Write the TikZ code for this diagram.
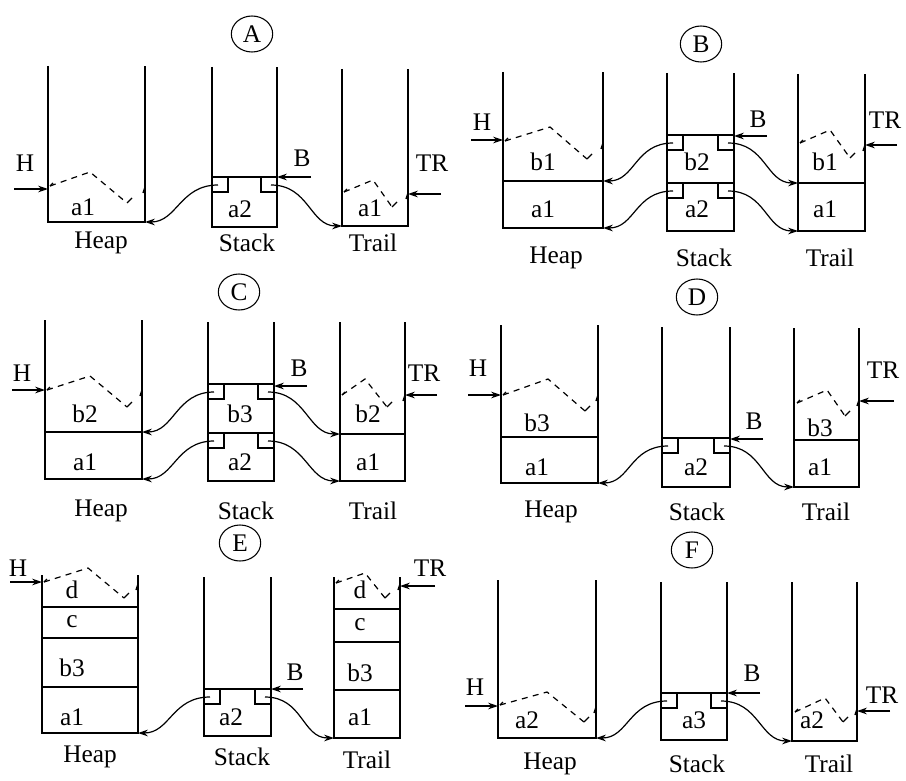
\documentclass[tikz,border=0pt]{standalone}
\usepackage{fontspec}
\setmainfont{Liberation Serif}
\usetikzlibrary{arrows.meta,shapes.geometric}
\tikzset{
  wall/.style={line width=1pt},
  ptr/.style={line width=0.9pt,-{Stealth[length=7.5pt,width=5pt]}},
  zig/.style={line width=0.9pt,dash pattern=on 4.5pt off 4pt},
  circ/.style={draw,ellipse,line width=0.8pt,minimum width=31pt,minimum height=27pt,inner sep=0pt},
  txt/.style={inner sep=1pt}
}
% open-topped column: xl xr top bottom
\newcommand\colwalls[4]{\draw[wall] (#1,#3) -- (#1,#4) -- (#2,#4) -- (#2,#3);}
\newcommand\sepline[3]{\draw[wall] (#1,#3) -- (#2,#3);}
% stack frame: name xl xr y
\newcommand\frameN[4]{%
  \draw[wall] (#2,#4) -- (#3,#4);
  \draw[wall] (#2+16,#4) -- (#2+16,#4+15) -- (#2,#4+15);
  \draw[wall] (#3-16,#4) -- (#3-16,#4+15) -- (#3,#4+15);
  \coordinate (#1l) at (#2+6,#4+8);
  \coordinate (#1r) at (#3-6,#4+8);}
% pointer arrow: name xfrom xto y
\newcommand\ptrarrow[4]{%
  \coordinate (#1s) at (#2,#4); \coordinate (#1e) at (#3,#4);
  \draw[ptr] (#1s) -- (#1e);}
% torn top: name lx ly px py vx vy wallx wally
\newcommand\torn[9]{%
  \coordinate (#1a) at (#2,#3); \coordinate (#1b) at (#4,#5); \coordinate (#1c) at (#6,#7);
  \draw[zig] (#1a) -- (#1b) -- (#1c);
  \draw[wall] (#1c) -- ++(5,-5);
  \draw[wall] (#1a) -- ++(3,-3);
  \draw[wall] (#8-2,#9+3) -- (#8,#9-3);}
% link from notch to wall
\newcommand\linkL[2]{\draw[ptr] (#1) .. controls +(-38,0) and +(32,0) .. (#2);}
\newcommand\linkR[2]{\draw[ptr] (#1) .. controls +(38,0) and +(-32,0) .. (#2);}

\begin{document}
\begin{tikzpicture}[x=0.75pt,y=-0.75pt,font=\fontsize{19pt}{21pt}\selectfont]
\useasboundingbox (0,0) rectangle (906,781);

% ===================== A =====================
\node[circ] (cA) at (252,34) {A};
\colwalls{48}{145}{66}{222}
\colwalls{212}{277}{67}{227}
\colwalls{342}{408}{69}{226}
\frameN{A1}{212}{277}{177}
\coordinate (hA1) at (145,222); \coordinate (tA1) at (342,226);
\linkL{A1l}{hA1} \linkR{A1r}{tA1}
\node[txt] (HA) at (25,163) {H}; \ptrarrow{HA}{14}{48}{189}
\node[txt] (BA) at (302,158) {B}; \ptrarrow{BA}{311}{277}{177}
\node[txt] (TRA) at (432,163) {TR}; \ptrarrow{TRA}{441}{408}{194}
\torn{zAh}{50}{186}{90}{172}{127}{203}{145}{190}
\torn{zAt}{344}{192}{373}{180}{392}{207}{408}{196}
\node[txt] (A-h1) at (83,207) {a1};
\node[txt] (A-s1) at (240,209) {a2};
\node[txt] (A-t1) at (370,208) {a1};
\node[txt] (A-H) at (101,243) {Heap};
\node[txt] (A-S) at (247,243) {Stack};
\node[txt] (A-T) at (373,243) {Trail};

% ===================== B =====================
\node[circ] (cB) at (701,44) {B};
\colwalls{503}{603}{72}{228} \sepline{503}{603}{181}
\colwalls{667}{734}{73}{231}
\colwalls{798}{865}{74}{231} \sepline{798}{865}{183}
\frameN{B1}{667}{734}{135}
\frameN{B2}{667}{734}{183}
\coordinate (hB1) at (603,181); \coordinate (hB2) at (603,228);
\coordinate (tB1) at (798,183); \coordinate (tB2) at (798,231);
\linkL{B1l}{hB1} \linkL{B2l}{hB2}
\linkR{B1r}{tB1} \linkR{B2r}{tB2}
\node[txt] (HB) at (482,122) {H}; \ptrarrow{HB}{471}{503}{140}
\node[txt] (BB) at (758,119) {B}; \ptrarrow{BB}{767}{734}{136}
\node[txt] (TRB) at (885,120) {TR}; \ptrarrow{TRB}{897}{865}{145}
\torn{zBh}{505}{141}{550}{127}{587}{159}{603}{146}
\torn{zBt}{800}{143}{830}{130}{850}{158}{865}{148}
\node[txt] (B-h2) at (543,162) {b1};
\node[txt] (B-h1) at (543,209) {a1};
\node[txt] (B-s2) at (697,162) {b2};
\node[txt] (B-s1) at (697,209) {a2};
\node[txt] (B-t2) at (825,162) {b1};
\node[txt] (B-t1) at (825,209) {a1};
\node[txt] (B-H) at (556,258) {Heap};
\node[txt] (B-S) at (704,258) {Stack};
\node[txt] (B-T) at (830,258) {Trail};

% ===================== C =====================
\node[circ] (cC) at (239,292) {C};
\colwalls{45}{142}{320}{479} \sepline{45}{142}{432}
\colwalls{208}{274}{322}{481}
\colwalls{340}{405}{322}{481} \sepline{340}{405}{434}
\frameN{C1}{208}{274}{384}
\frameN{C2}{208}{274}{433}
\coordinate (hC1) at (142,432); \coordinate (hC2) at (142,479);
\coordinate (tC1) at (340,434); \coordinate (tC2) at (340,481);
\linkL{C1l}{hC1} \linkL{C2l}{hC2}
\linkR{C1r}{tC1} \linkR{C2r}{tC2}
\node[txt] (HC) at (22,373) {H}; \ptrarrow{HC}{12}{45}{390}
\node[txt] (BC) at (299,368) {B}; \ptrarrow{BC}{307}{274}{386}
\node[txt] (TRC) at (424,373) {TR}; \ptrarrow{TRC}{437}{405}{395}
\torn{zCh}{47}{390}{90}{376}{127}{407}{142}{393}
\torn{zCt}{342}{395}{365}{379}{387}{407}{405}{398}
\node[txt] (C-h2) at (85,414) {b2};
\node[txt] (C-h1) at (85,462) {a1};
\node[txt] (C-s2) at (240,414) {b3};
\node[txt] (C-s1) at (240,462) {a2};
\node[txt] (C-t2) at (368,414) {b2};
\node[txt] (C-t1) at (368,462) {a1};
\node[txt] (C-H) at (101,511) {Heap};
\node[txt] (C-S) at (246,511) {Stack};
\node[txt] (C-T) at (373,511) {Trail};

% ===================== D =====================
\node[circ] (cD) at (697,297) {D};
\colwalls{501}{598}{325}{483} \sepline{501}{598}{437}
\colwalls{662}{730}{327}{487}
\colwalls{794}{859}{328}{487} \sepline{794}{859}{440}
\frameN{D1}{662}{730}{438}
\coordinate (hD1) at (598,483); \coordinate (tD1) at (794,487);
\linkL{D1l}{hD1} \linkR{D1r}{tD1}
\node[txt] (HD) at (478,368) {H}; \ptrarrow{HD}{468}{501}{395}
\node[txt] (BD) at (754,421) {B}; \ptrarrow{BD}{763}{730}{439}
\node[txt] (TRD) at (883,370) {TR}; \ptrarrow{TRD}{894}{859}{401}
\torn{zDh}{503}{395}{548}{379}{585}{411}{598}{398}
\torn{zDt}{797}{403}{827}{390}{845}{416}{859}{403}
\node[txt] (D-h2) at (537,423) {b3};
\node[txt] (D-h1) at (537,467) {a1};
\node[txt] (D-s1) at (696,467) {a2};
\node[txt] (D-t2) at (820,428) {b3};
\node[txt] (D-t1) at (820,467) {a1};
\node[txt] (D-H) at (551,512) {Heap};
\node[txt] (D-S) at (697,512) {Stack};
\node[txt] (D-T) at (826,512) {Trail};

% ===================== E =====================
\node[circ] (cE) at (240,543) {E};
\colwalls{42}{138}{575}{733}
\sepline{42}{138}{607} \sepline{42}{138}{638} \sepline{42}{138}{687}
\colwalls{204}{271}{577}{736}
\colwalls{334}{400}{577}{738}
\sepline{334}{400}{609} \sepline{334}{400}{642} \sepline{334}{400}{690}
\frameN{E1}{204}{271}{689}
\coordinate (hE1) at (138,733); \coordinate (tE1) at (334,738);
\linkL{E1l}{hE1} \linkR{E1r}{tE1}
\node[txt] (HE) at (18,568) {H}; \ptrarrow{HE}{10}{42}{582}
\node[txt] (BE) at (295,672) {B}; \ptrarrow{BE}{303}{271}{689}
\node[txt] (TRE) at (430,568) {TR}; \ptrarrow{TRE}{435}{400}{586}
\torn{zEh}{44}{582}{88}{568}{124}{598}{138}{587}
\torn{zEt}{336}{583}{365}{573}{385}{598}{400}{587}
\node[txt] (E-h4) at (72,590) {d};
\node[txt] (E-h3) at (72,622) {c};
\node[txt] (E-h2) at (72,668) {b3};
\node[txt] (E-h1) at (72,717) {a1};
\node[txt] (E-s1) at (231,717) {a2};
\node[txt] (E-t4) at (360,590) {d};
\node[txt] (E-t3) at (360,625) {c};
\node[txt] (E-t2) at (360,673) {b3};
\node[txt] (E-t1) at (360,717) {a1};
\node[txt] (E-H) at (90,757) {Heap};
\node[txt] (E-S) at (242,757) {Stack};
\node[txt] (E-T) at (367,760) {Trail};

% ===================== F =====================
\node[circ] (cF) at (692,550) {F};
\colwalls{498}{596}{580}{738}
\colwalls{661}{727}{582}{740}
\colwalls{792}{857}{582}{741}
\frameN{F1}{661}{727}{693}
\coordinate (hF1) at (596,738); \coordinate (tF1) at (792,741);
\linkL{F1l}{hF1} \linkR{F1r}{tF1}
\node[txt] (HF) at (475,687) {H}; \ptrarrow{HF}{465}{498}{706}
\node[txt] (BF) at (752,673) {B}; \ptrarrow{BF}{760}{727}{693}
\node[txt] (TRF) at (882,695) {TR}; \ptrarrow{TRF}{890}{857}{711}
\torn{zFh}{500}{705}{547}{692}{584}{722}{596}{710}
\torn{zFt}{795}{712}{825}{698}{843}{722}{857}{712}
\node[txt] (F-h1) at (527,720) {a2};
\node[txt] (F-s1) at (694,720) {a3};
\node[txt] (F-t1) at (812,720) {a2};
\node[txt] (F-H) at (550,764) {Heap};
\node[txt] (F-S) at (697,764) {Stack};
\node[txt] (F-T) at (829,764) {Trail};
\end{tikzpicture}
\end{document}
